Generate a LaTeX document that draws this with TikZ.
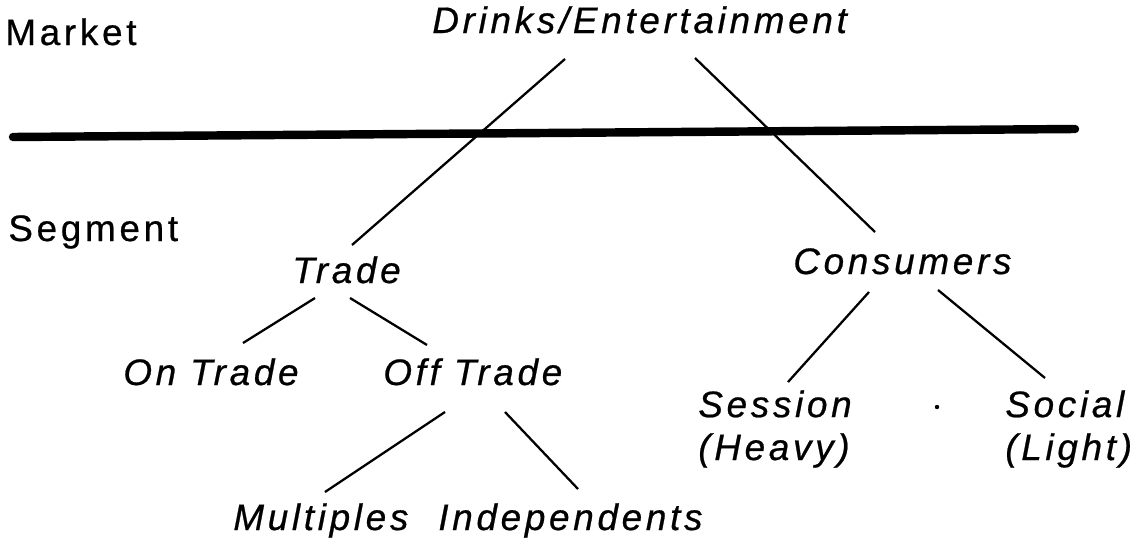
\documentclass[tikz,border=0pt]{standalone}
\usepackage{fontspec}
\setmainfont[LetterSpace=10,FakeBold=0.6]{Liberation Sans}
\usepackage{tikz}
\usetikzlibrary{positioning,calc}
\tikzset{
    level/.style={anchor=base west, inner sep=0pt, font=\fontsize{21}{24.4}\selectfont},
    item/.style={anchor=base west, inner sep=0pt, align=left, font=\fontsize{21}{24.4}\selectfont\itshape},
    branch/.style={line width=1.3pt},
    divider/.style={line width=4.8pt, line cap=round},
}

\begin{document}
\begin{tikzpicture}[x=0.02cm, y=-0.02cm]
    \useasboundingbox (0,0) rectangle (1132,541);

    % Level labels
    \node[level] (market) at (5,45) {Market};
    \node[level] (segment) at (8,241) {Segment};

    % Market
    \node[item] (drinks) at (432,33) {Drinks/Entertainment};

    % Dividing line
    \draw[divider] (13,137) -- (1075,129);

    % Segments
    \node[item] (trade) at (292,283) {Trade};
    \node[item] (consumers) at (793,274) {Consumers};
    \node[item] (ontrade) at (123,385) {On Trade};
    \node[item] (offtrade) at (383,385) {Off Trade};
    \node[item] (session) at (698,460) {Session\\(Heavy)};
    \node[item] (social) at (1005,460) {Social\\(Light)};
    \node[item] (multiples) at (233,530) {Multiples};
    \node[item] (independents) at (438,530) {Independents};
    \node[circle, fill, inner sep=0pt, minimum size=2.5pt] (dot) at (937,407) {};

    % Branches
    \draw[branch] ([shift={(133,26)}]drinks.base west) -- ([shift={(60,-38)}]trade.base west);
    \draw[branch] ([shift={(263,25)}]drinks.base west) -- ([shift={(82,-42)}]consumers.base west);
    \draw[branch] ([shift={(23,15)}]trade.base west) -- ([shift={(120,-42)}]ontrade.base west);
    \draw[branch] ([shift={(58,15)}]trade.base west) -- ([shift={(44,-40)}]offtrade.base west);
    \draw[branch] ([shift={(62,27)}]offtrade.base west) -- ([shift={(92,-38)}]multiples.base west);
    \draw[branch] ([shift={(122,27)}]offtrade.base west) -- ([shift={(140,-41)}]independents.base west);
    \draw[branch] ([shift={(76,18)}]consumers.base west) -- ([shift={(90,-78)}]session.base west);
    \draw[branch] ([shift={(145,16)}]consumers.base west) -- ([shift={(40,-82)}]social.base west);
\end{tikzpicture}
\end{document}
